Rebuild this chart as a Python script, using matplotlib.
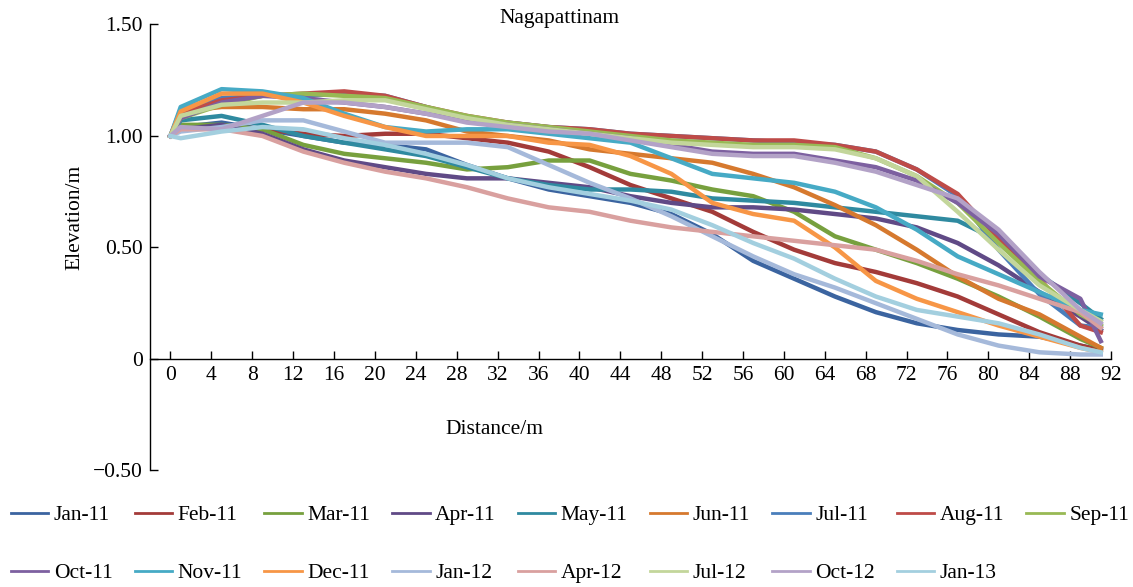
import matplotlib
matplotlib.use('Agg')
import matplotlib.pyplot as plt
from matplotlib.lines import Line2D
from matplotlib.ticker import FuncFormatter

plt.rcParams['font.family'] = ['Liberation Serif', 'DejaVu Serif']
plt.rcParams['font.size'] = 15.5

distance = [0, 1, 5, 9, 13, 17, 21, 25, 29, 33, 37, 41, 45, 49, 53, 57, 61, 65, 69, 73, 77, 81, 85, 89, 91]

months = ['Jan-11', 'Feb-11', 'Mar-11', 'Apr-11', 'May-11', 'Jun-11', 'Jul-11', 'Aug-11', 'Sep-11',
          'Oct-11', 'Nov-11', 'Dec-11', 'Jan-12', 'Apr-12', 'Jul-12', 'Oct-12', 'Jan-13']

jan_11 = [1.00, 1.04, 1.06, 1.03, 1.00, 0.97, 0.96, 0.94, 0.87, 0.81, 0.76, 0.73, 0.70, 0.65, 0.56, 0.44, 0.36, 0.28, 0.21, 0.16, 0.13, 0.11, 0.10, 0.06, 0.04]
feb_11 = [1.00, 1.03, 1.04, 1.03, 1.01, 1.00, 1.01, 1.01, 0.99, 0.97, 0.93, 0.86, 0.78, 0.72, 0.66, 0.57, 0.49, 0.43, 0.39, 0.34, 0.28, 0.20, 0.12, 0.06, 0.04]
mar_11 = [1.00, 1.05, 1.05, 1.03, 0.96, 0.92, 0.90, 0.88, 0.85, 0.86, 0.89, 0.89, 0.83, 0.80, 0.76, 0.73, 0.66, 0.55, 0.49, 0.43, 0.36, 0.28, 0.19, 0.09, 0.05]
apr_11 = [1.00, 1.03, 1.05, 1.01, 0.94, 0.89, 0.86, 0.83, 0.81, 0.81, 0.79, 0.77, 0.73, 0.70, 0.68, 0.68, 0.67, 0.65, 0.63, 0.59, 0.52, 0.42, 0.30, 0.19, 0.13]
may_11 = [1.00, 1.07, 1.09, 1.05, 1.00, 0.97, 0.94, 0.91, 0.86, 0.81, 0.78, 0.76, 0.76, 0.75, 0.72, 0.71, 0.70, 0.68, 0.66, 0.64, 0.62, 0.53, 0.38, 0.25, 0.18]
jun_11 = [1.00, 1.11, 1.13, 1.13, 1.12, 1.12, 1.10, 1.07, 1.02, 1.00, 0.98, 0.94, 0.92, 0.90, 0.88, 0.83, 0.77, 0.69, 0.60, 0.49, 0.37, 0.27, 0.20, 0.10, 0.05]
jul_11 = [1.00, 1.12, 1.17, 1.18, 1.18, 1.19, 1.18, 1.13, 1.08, 1.06, 1.04, 1.03, 1.01, 1.00, 0.99, 0.98, 0.97, 0.96, 0.93, 0.85, 0.73, 0.49, 0.29, 0.15, 0.14]
aug_11 = [1.00, 1.10, 1.16, 1.18, 1.19, 1.20, 1.18, 1.13, 1.09, 1.06, 1.04, 1.03, 1.01, 1.00, 0.99, 0.98, 0.98, 0.96, 0.93, 0.85, 0.74, 0.54, 0.36, 0.15, 0.12]
sep_11 = [1.00, 1.08, 1.14, 1.18, 1.19, 1.18, 1.17, 1.13, 1.09, 1.06, 1.04, 1.02, 1.00, 0.98, 0.97, 0.96, 0.96, 0.95, 0.90, 0.82, 0.70, 0.52, 0.35, 0.20, 0.15]
oct_11 = [1.00, 1.08, 1.15, 1.18, 1.17, 1.15, 1.13, 1.10, 1.07, 1.05, 1.03, 1.01, 0.99, 0.96, 0.93, 0.92, 0.92, 0.89, 0.86, 0.80, 0.70, 0.56, 0.37, 0.27, 0.08]
nov_11 = [1.00, 1.13, 1.21, 1.20, 1.17, 1.10, 1.04, 1.02, 1.03, 1.03, 1.01, 0.99, 0.97, 0.90, 0.83, 0.81, 0.79, 0.75, 0.68, 0.58, 0.46, 0.38, 0.30, 0.22, 0.20]
dec_11 = [1.00, 1.11, 1.19, 1.19, 1.15, 1.09, 1.04, 1.00, 1.00, 1.00, 0.97, 0.96, 0.91, 0.83, 0.70, 0.65, 0.62, 0.50, 0.35, 0.27, 0.21, 0.15, 0.10, 0.05, 0.03]
jan_12 = [1.00, 1.02, 1.04, 1.07, 1.07, 1.02, 0.97, 0.97, 0.97, 0.95, 0.87, 0.79, 0.72, 0.64, 0.55, 0.46, 0.38, 0.32, 0.25, 0.18, 0.11, 0.06, 0.03, 0.02, 0.02]
apr_12 = [1.00, 1.03, 1.03, 1.00, 0.93, 0.88, 0.84, 0.81, 0.77, 0.72, 0.68, 0.66, 0.62, 0.59, 0.57, 0.55, 0.53, 0.51, 0.49, 0.44, 0.38, 0.33, 0.27, 0.21, 0.14]
jul_12 = [1.00, 1.09, 1.14, 1.15, 1.15, 1.16, 1.16, 1.12, 1.08, 1.05, 1.03, 1.01, 0.99, 0.97, 0.96, 0.95, 0.95, 0.94, 0.90, 0.82, 0.66, 0.49, 0.33, 0.22, 0.17]
oct_12 = [1.00, 1.04, 1.03, 1.09, 1.15, 1.15, 1.13, 1.10, 1.06, 1.04, 1.02, 1.01, 0.98, 0.95, 0.92, 0.91, 0.91, 0.88, 0.84, 0.78, 0.72, 0.58, 0.39, 0.22, 0.16]
jan_13 = [1.00, 0.99, 1.02, 1.04, 1.03, 0.99, 0.96, 0.92, 0.87, 0.81, 0.77, 0.74, 0.71, 0.67, 0.60, 0.52, 0.45, 0.36, 0.28, 0.22, 0.19, 0.16, 0.11, 0.05, 0.03]

series = [jan_11, feb_11, mar_11, apr_11, may_11, jun_11, jul_11, aug_11, sep_11,
          oct_11, nov_11, dec_11, jan_12, apr_12, jul_12, oct_12, jan_13]

colors = ['#3B64A0', '#A33B39', '#77A03E', '#604A86', '#2F8AA0', '#D6792E', '#4A7EBB', '#BE4B48', '#98B954',
          '#7D60A0', '#46AAC5', '#F79646', '#A5B9DA', '#D9A09F', '#C3D69B', '#B3A2C7', '#A3CFDF']

x_ticks = list(range(0, 93, 4))
y_ticks = [-0.5, 0, 0.5, 1.0, 1.5]


def y_label(value, pos):
    if value == 0:
        return '0'
    return '{:.2f}'.format(value).replace('-', '\u2212')


fig = plt.figure(figsize=(11.33, 5.87), dpi=100)
ax = fig.add_axes([0.1324, 0.1985, 0.8482, 0.7598])

for values, color in zip(series, colors):
    ax.plot(distance, values, '-', color=color, linewidth=3.2, solid_joinstyle='round')

ax.set_xlim(-2, 92)
ax.set_ylim(-0.5, 1.5)
ax.set_xticks(x_ticks)
ax.set_yticks(y_ticks)
ax.yaxis.set_major_formatter(FuncFormatter(y_label))

ax.spines['top'].set_visible(False)
ax.spines['right'].set_visible(False)
ax.spines['bottom'].set_position(('data', 0))
ax.spines['bottom'].set_linewidth(1.0)
ax.spines['left'].set_linewidth(1.0)
ax.tick_params(axis='both', direction='in', length=6, width=1.0, labelsize=15.5, pad=5)

fig.text(0.494, 0.969, 'Nagapattinam', ha='center', va='center', fontsize=15.5)
fig.text(0.436, 0.2675, 'Distance/m', ha='center', va='center', fontsize=15.5)
fig.text(0.066, 0.629, 'Elevation/m', ha='center', va='center', rotation=90, fontsize=15.5)

# legend: matplotlib fills columns first, so interleave the two rows
row_1 = list(range(9))
row_2 = list(range(9, 17))
order = []
for i in range(9):
    order.append(row_1[i])
    if i < len(row_2):
        order.append(row_2[i])
handles = [Line2D([], [], color=colors[i], linewidth=2.0) for i in order]
labels = [months[i] for i in order]
fig.legend(handles, labels, loc='center', bbox_to_anchor=(0.503, 0.073), ncol=9, frameon=False,
           fontsize=15.5, handlelength=1.75, handletextpad=0.25, columnspacing=1.02, labelspacing=1.76,
           borderpad=0, borderaxespad=0)

plt.savefig('out.png', dpi=100)
